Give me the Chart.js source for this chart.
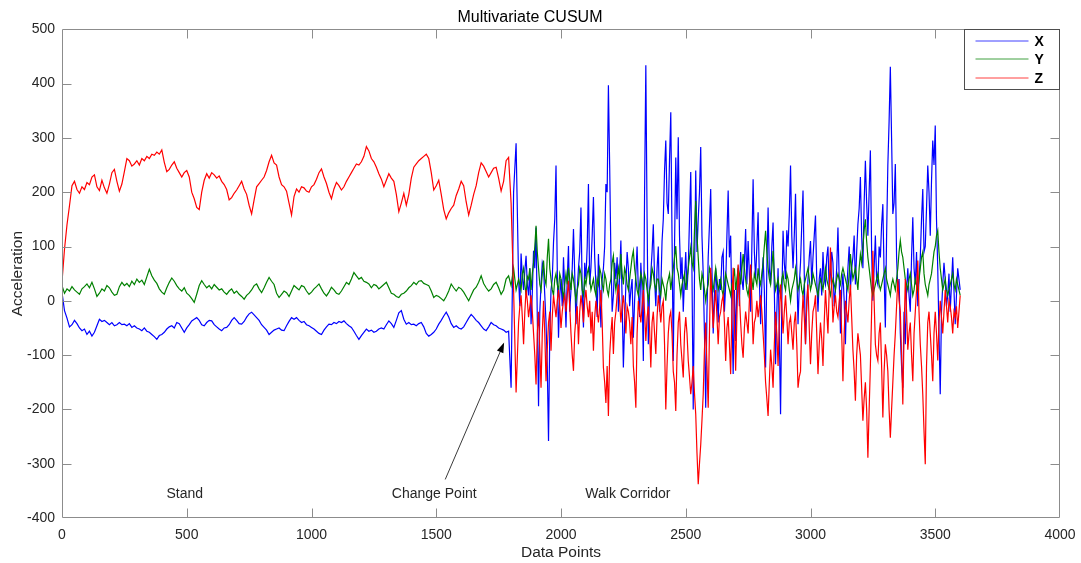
<!DOCTYPE html>
<html>
<head>
<meta charset="utf-8">
<title>Multivariate CUSUM</title>
<script src="https://cdn.jsdelivr.net/npm/chart.js@4.4.1/dist/chart.umd.min.js"></script>
<style>
  html, body { margin: 0; padding: 0; background: #ffffff; }
  #wrap { width: 1081px; height: 563px; position: relative; }
  canvas { display: block; }
</style>
</head>
<body>
<div id="wrap"><canvas id="cusum" width="1081" height="563"></canvas></div>
<script>
// Standing phase (and the jump at the change point) is sampled every
// STAND_STEP points from 0; the walking phase every WALK_STEP points
// from WALK_START.
const STAND_STEP = 10;
const WALK_START = 1830;
const WALK_STEP = 5;

const seriesNames = ['X', 'Y', 'Z'];
const seriesColors = ['#0000ff', '#008000', '#ff0000'];

// ---- X axis ----
const standX = [
  15,-18,-32,-48,-44,-36,-42,-50,-55,-52,
  -62,-56,-65,-58,-46,-34,-38,-36,-40,-44,
  -40,-46,-44,-40,-44,-43,-46,-42,-49,-46,
  -50,-52,-55,-50,-56,-58,-62,-66,-71,-64,
  -62,-58,-52,-48,-46,-50,-40,-42,-50,-58,
  -50,-44,-37,-34,-31,-36,-44,-46,-40,-36,
  -37,-44,-48,-52,-55,-50,-49,-44,-36,-31,
  -36,-42,-43,-38,-30,-24,-21,-26,-31,-36,
  -44,-49,-54,-62,-58,-54,-52,-50,-54,-55,
  -46,-38,-31,-34,-31,-36,-40,-38,-44,-46,
  -49,-52,-56,-60,-62,-54,-48,-43,-44,-40,
  -42,-38,-40,-37,-42,-46,-49,-56,-64,-71,
  -64,-58,-52,-56,-54,-58,-56,-52,-50,-52,
  -44,-37,-42,-49,-36,-22,-18,-34,-43,-40,
  -44,-43,-46,-42,-40,-48,-60,-65,-62,-58,
  -52,-43,-36,-28,-21,-30,-42,-49,-46,-50,
  -52,-48,-40,-32,-25,-30,-36,-40,-46,-52,
  -55,-48,-40,-44,-46,-50,-52,-54,-58,-56,
  -160,200,290
];
const walkX = [
  40,-10,87,45,20,55,83,30,10,60,-43,15,92,60,135,-30,-194,-20,30,70,
  60,10,-40,-120,-258,-60,20,40,108,150,249,60,-68,10,40,-10,80,20,-49,40,
  101,-20,20,60,132,50,-43,20,60,90,172,20,-49,70,40,100,215,30,61,120,
  191,80,30,-30,86,20,-49,40,60,100,215,200,397,250,86,-20,10,70,40,80,
  -20,50,111,0,-123,-40,30,90,60,-10,20,40,-68,0,50,100,20,-30,70,20,
  -111,200,434,150,-80,20,50,90,141,40,-10,60,100,-20,20,110,150,240,295,180,
  160,260,347,120,-111,100,264,150,301,120,40,80,-20,40,90,20,60,150,237,50,
  -200,40,240,90,150,200,283,120,50,-60,-197,-20,80,140,206,60,-60,10,60,20,
  -40,40,20,80,90,-20,30,120,203,80,120,-20,-135,20,-74,30,60,-10,90,40,
  20,70,132,30,110,50,-20,100,224,90,40,100,163,40,-43,30,80,20,-123,60,
  172,60,30,100,144,20,-117,-20,60,-60,-209,0,129,70,40,130,100,160,249,120,
  60,120,197,60,-43,30,70,140,203,50,-80,-10,40,80,110,30,80,120,157,40,
  -20,40,60,10,90,40,30,80,100,20,50,90,70,-10,20,60,135,40,-60,20,
  50,0,-80,20,60,100,20,60,80,120,30,90,141,170,228,120,60,180,258,180,
  120,200,277,90,0,60,120,40,30,100,80,140,178,50,-49,120,250,330,431,300,
  160,180,252,80,20,40,-60,-120,-160,-20,-80,20,60,10,-20,80,154,60,30,90,
  -10,40,80,150,206,90,100,170,249,200,120,220,295,250,323,150,60,-60,-172,-20,
  30,70,40,-10,10,50,-20,30,80,20,-43,10,60,40,20
];

// ---- Y axis ----
const standY = [
  28,14,22,18,26,20,16,12,22,26,
  31,24,34,22,8,14,22,18,28,24,
  16,10,12,26,34,28,32,26,36,30,
  40,34,38,30,44,58,46,38,32,22,
  16,12,24,34,42,36,28,22,18,24,
  14,10,4,-3,12,28,37,30,24,28,
  22,30,25,20,22,16,12,18,22,14,
  18,12,8,3,10,14,20,28,31,22,
  15,24,34,43,36,30,14,6,12,18,
  15,8,18,28,24,20,28,26,18,12,
  16,22,26,31,22,14,9,16,25,20,
  14,12,18,26,34,30,40,52,46,40,
  43,36,34,31,24,30,28,22,26,30,
  34,24,14,12,8,6,12,14,18,24,
  28,34,30,36,37,32,30,28,18,6,
  10,8,4,0,8,18,31,24,18,25,
  22,16,8,0,10,20,25,34,46,32,
  24,18,22,30,34,24,12,20,40,46,
  28,60,20
];
const walkY = [
  40,30,20,50,60,30,10,45,40,60,20,50,70,100,138,90,60,30,20,50,
  74,40,30,80,114,60,40,20,10,40,50,30,20,50,40,20,5,30,50,30,
  61,40,20,50,40,20,0,20,30,60,50,20,10,40,30,50,60,40,20,30,
  40,20,10,40,30,60,50,30,20,50,40,20,10,30,40,70,83,40,20,40,
  60,40,86,50,30,60,50,30,20,40,60,80,92,60,40,20,10,30,50,40,
  20,50,40,20,0,20,30,60,50,30,20,40,40,20,10,40,30,20,0,30,
  40,50,20,40,60,80,101,60,50,30,10,30,40,50,20,40,60,80,98,70,
  60,130,184,120,80,40,20,50,40,20,0,20,30,60,50,30,20,40,60,40,
  20,30,40,20,10,30,50,40,30,20,10,30,40,60,20,40,60,50,30,60,
  86,60,40,20,10,30,50,40,20,50,40,30,60,40,30,50,70,100,129,90,
  60,40,30,60,92,50,20,30,40,20,10,40,50,30,20,50,40,20,0,20,
  30,40,60,40,20,30,40,20,10,30,40,50,60,40,20,30,50,40,30,20,
  10,30,40,30,20,40,60,40,30,20,10,30,40,30,20,40,50,40,30,50,
  60,50,40,30,20,50,86,60,40,50,60,40,20,60,86,70,100,130,150,110,
  80,60,40,20,10,20,30,40,50,30,20,30,40,50,60,40,30,20,10,30,
  40,30,20,40,60,90,111,90,80,60,40,30,20,40,50,30,10,20,40,30,
  20,40,60,80,90,50,30,20,10,30,40,50,70,90,100,120,129,90,60,40,
  20,30,40,20,10,20,30,40,50,30,20,40,30,20,10
];

// ---- Z axis ----
const standZ = [
  35,95,140,175,212,220,205,198,210,205,
  218,214,228,232,210,203,222,208,198,215,
  236,242,220,202,215,238,262,258,248,252,
  258,250,262,258,266,262,270,268,274,270,
  278,255,238,242,250,256,244,236,228,236,
  240,228,200,188,172,168,200,222,234,226,
  236,232,226,230,220,214,205,186,190,198,
  204,212,220,206,196,176,160,186,210,216,
  222,228,240,256,268,254,250,228,214,210,
  202,180,158,192,206,200,210,208,202,200,
  210,214,224,236,243,228,216,200,188,206,
  218,212,204,210,220,228,236,244,252,250,
  256,266,284,276,262,256,246,234,224,210,
  222,234,226,220,196,164,180,198,176,196,
  226,246,252,258,262,266,270,262,236,204,
  212,222,196,168,151,162,170,176,194,206,
  220,212,182,158,176,196,212,236,254,248,
  238,228,236,244,246,226,202,220,258,264,
  180,20,-169
];
const walkZ = [
  -40,-10,10,-30,-80,-20,20,0,-30,-10,10,-20,-60,-100,-154,-60,-20,-90,-160,-60,
  0,-60,-148,-90,-40,-20,-92,-30,10,-10,-30,0,20,-10,-50,-20,0,10,-20,10,
  37,-10,-60,-100,-129,-60,-30,-10,-80,-20,10,-10,-40,0,20,-10,-30,0,-60,-20,
  -92,-30,0,-20,-40,-10,20,-40,-123,-150,-188,-120,-212,-100,-60,-30,-98,-40,-20,10,
  30,0,-40,-10,10,-20,-60,-10,-20,-40,-80,-30,-120,-150,-197,-60,0,-20,-40,-10,
  20,-20,-74,-30,-10,-50,-123,-40,-20,-60,-98,-30,10,-10,-40,-10,0,-80,-200,-120,
  -60,-30,-20,-60,-130,-150,-203,-100,-40,-20,-80,-110,-141,-60,-30,-60,-110,-140,-172,-150,
  -120,-170,-209,-280,-338,-300,-265,-220,-172,-90,-40,-120,-197,-60,61,0,-50,-10,20,-30,
  -80,-30,-20,0,10,-40,-111,-50,-30,-80,-135,-20,61,-40,-129,-30,67,10,-40,-80,
  -105,-50,-20,-40,-60,0,67,0,-80,-40,-30,0,-30,-10,10,-20,-60,-100,-150,-180,
  -212,-150,-90,-120,-160,-80,-20,-60,-120,-40,30,-10,-60,-20,10,-30,-80,-40,-30,-60,
  -90,-40,-20,-80,-160,-140,-130,-40,10,-30,-80,0,30,-50,-117,-60,-20,-10,10,-60,
  -135,-80,-40,-70,-120,-40,20,-20,-60,20,98,30,-40,-10,10,-20,-30,0,20,-60,
  -148,-60,0,-20,-40,0,30,-30,-90,-130,-184,-100,-60,-80,-100,-160,-221,-180,-150,-200,
  -289,-200,-120,-20,92,0,-80,-100,-110,-60,-40,-120,-215,-130,-80,-100,-130,-200,-252,-200,
  -150,-100,-60,-10,40,0,-20,-100,-191,-60,40,-20,-90,-60,-40,-100,-148,-60,-20,20,
  74,-20,-80,-120,-172,-240,-301,-120,-40,-20,-60,-100,-148,-60,-20,-60,-110,-40,0,-30,
  -60,-20,20,-10,-40,0,-10,-30,-60,-20,-30,-10,-50,-20,10
];

// Text notes placed in data units: [label, sample, acceleration]
const notes = [
  ['Stand', 492, -356],
  ['Change Point', 1492, -356],
  ['Walk Corridor', 2268, -356]
];
// Arrow pointing at the change point: tail and head in data units
const changeArrow = { from: [1536, -329], to: [1772, -77] };

const FONT = '"Liberation Sans", Arial, Helvetica, sans-serif';

function toPoints(stand, walk) {
  const pts = stand.map((v, i) => ({ x: i * STAND_STEP, y: v }));
  walk.forEach((v, i) => pts.push({ x: WALK_START + i * WALK_STEP, y: v }));
  return pts;
}

const seriesParts = [[standX, walkX], [standY, walkY], [standZ, walkZ]];
const datasets = seriesParts.map(([stand, walk], k) => ({
  label: seriesNames[k],
  data: toPoints(stand, walk),
  borderColor: seriesColors[k],
  backgroundColor: seriesColors[k],
  borderWidth: 1.2,
  pointRadius: 0,
  tension: 0,
  fill: false,
  order: 2 - k   // later series are painted on top
}));

// Box around the plot with inward tick marks on all four sides
const axesBox = {
  id: 'axesBox',
  afterDatasetsDraw(chart) {
    const { ctx, chartArea: a, scales } = chart;
    const L = Math.round(a.left) + 0.5, R = Math.round(a.right) - 0.5;
    const T = Math.round(a.top) + 0.5, B = Math.round(a.bottom) - 0.5;
    const tick = 9;
    ctx.save();
    ctx.strokeStyle = '#8c8c8c';
    ctx.lineWidth = 1;
    ctx.beginPath();
    ctx.rect(L, T, R - L, B - T);
    ctx.stroke();
    ctx.beginPath();
    scales.x.ticks.forEach(t => {
      const px = Math.round(scales.x.getPixelForValue(t.value)) + 0.5;
      if (px <= L + 1 || px >= R - 1) return;
      ctx.moveTo(px, B); ctx.lineTo(px, B - tick);
      ctx.moveTo(px, T); ctx.lineTo(px, T + tick);
    });
    scales.y.ticks.forEach(t => {
      const py = Math.round(scales.y.getPixelForValue(t.value)) + 0.5;
      if (py <= T + 1 || py >= B - 1) return;
      ctx.moveTo(L, py); ctx.lineTo(L + tick, py);
      ctx.moveTo(R, py); ctx.lineTo(R - tick, py);
    });
    ctx.stroke();
    ctx.restore();
  }
};

// Text notes and the arrow marking where walking begins
const notesLayer = {
  id: 'notesLayer',
  afterDatasetsDraw(chart) {
    const { ctx, scales: { x, y } } = chart;
    ctx.save();
    ctx.fillStyle = '#262626';
    ctx.font = '14px ' + FONT;
    ctx.textAlign = 'center';
    ctx.textBaseline = 'middle';
    notes.forEach(([txt, dx, dy]) => {
      ctx.fillText(txt, x.getPixelForValue(dx), y.getPixelForValue(dy));
    });
    const x0 = x.getPixelForValue(changeArrow.from[0]);
    const y0 = y.getPixelForValue(changeArrow.from[1]);
    const x1 = x.getPixelForValue(changeArrow.to[0]);
    const y1 = y.getPixelForValue(changeArrow.to[1]);
    const ang = Math.atan2(y1 - y0, x1 - x0);
    const headLen = 10, headHalf = 3.5;
    const bx = x1 - headLen * Math.cos(ang), by = y1 - headLen * Math.sin(ang);
    ctx.strokeStyle = '#3a3a3a';
    ctx.lineWidth = 1;
    ctx.beginPath();
    ctx.moveTo(x0, y0);
    ctx.lineTo(bx, by);
    ctx.stroke();
    ctx.fillStyle = '#000000';
    ctx.beginPath();
    ctx.moveTo(x1, y1);
    ctx.lineTo(bx + headHalf * Math.sin(ang), by - headHalf * Math.cos(ang));
    ctx.lineTo(bx - headHalf * Math.sin(ang), by + headHalf * Math.cos(ang));
    ctx.closePath();
    ctx.fill();
    ctx.restore();
  }
};

// Boxed legend in the upper-right corner of the plot
const cornerLegend = {
  id: 'cornerLegend',
  afterDraw(chart) {
    const { ctx, chartArea: a } = chart;
    const w = 96, h = 60;
    const left = Math.round(a.right - w) + 0.5;
    const top = Math.round(a.top) + 0.5;
    ctx.save();
    ctx.fillStyle = '#ffffff';
    ctx.fillRect(left, top, w - 1, h);
    ctx.strokeStyle = '#4d4d4d';
    ctx.lineWidth = 1;
    ctx.strokeRect(left, top, w - 1, h);
    ctx.font = 'bold 14px ' + FONT;
    ctx.textAlign = 'left';
    ctx.textBaseline = 'middle';
    chart.data.datasets.forEach((ds, k) => {
      const cy = Math.round(top + 11 + k * 18.5);
      ctx.strokeStyle = ds.borderColor;
      ctx.lineWidth = 1;
      ctx.globalAlpha = 0.75;
      ctx.beginPath();
      ctx.moveTo(left + 11, cy);
      ctx.lineTo(left + 64, cy);
      ctx.stroke();
      ctx.globalAlpha = 1;
      ctx.fillStyle = '#000000';
      ctx.fillText(ds.label, left + 70, cy + 1);
    });
    ctx.restore();
  }
};

const tickFont = { family: FONT, size: 14 };
const plainNumber = v => String(v);

new Chart(document.getElementById('cusum'), {
  type: 'line',
  data: { datasets },
  plugins: [axesBox, notesLayer, cornerLegend],
  options: {
    responsive: false,
    animation: false,
    devicePixelRatio: 1,
    events: [],
    layout: { padding: { left: 0, right: 21, top: 0, bottom: 0 } },
    plugins: {
      legend: { display: false },
      tooltip: { enabled: false },
      title: {
        display: true,
        text: 'Multivariate CUSUM',
        color: '#000000',
        font: { family: FONT, size: 16, weight: 'normal' },
        padding: { top: 7.5, bottom: 2.6 }
      }
    },
    scales: {
      x: {
        type: 'linear',
        min: 0,
        max: 4000,
        grid: { display: false, drawTicks: false },
        border: { display: false },
        ticks: { stepSize: 500, padding: 9, color: '#262626', font: tickFont, maxRotation: 0, autoSkip: false, callback: plainNumber },
        title: { display: true, text: 'Data Points', color: '#262626', font: { family: FONT, size: 15.5 }, padding: { top: 0, bottom: 1 } },
        afterFit(scale) { scale.height = 45; scale.paddingLeft = 0; scale.paddingRight = 0; }
      },
      y: {
        type: 'linear',
        min: -400,
        max: 500,
        grid: { display: false, drawTicks: false },
        border: { display: false },
        ticks: { stepSize: 100, padding: 7, color: '#262626', font: tickFont, callback: plainNumber },
        title: { display: true, text: 'Acceleration', color: '#262626', font: { family: FONT, size: 15.5 }, padding: { top: 8, bottom: 0 } },
        afterFit(scale) { scale.width = 62; scale.paddingTop = 0; scale.paddingBottom = 0; }
      }
    }
  }
});
</script>
</body>
</html>
